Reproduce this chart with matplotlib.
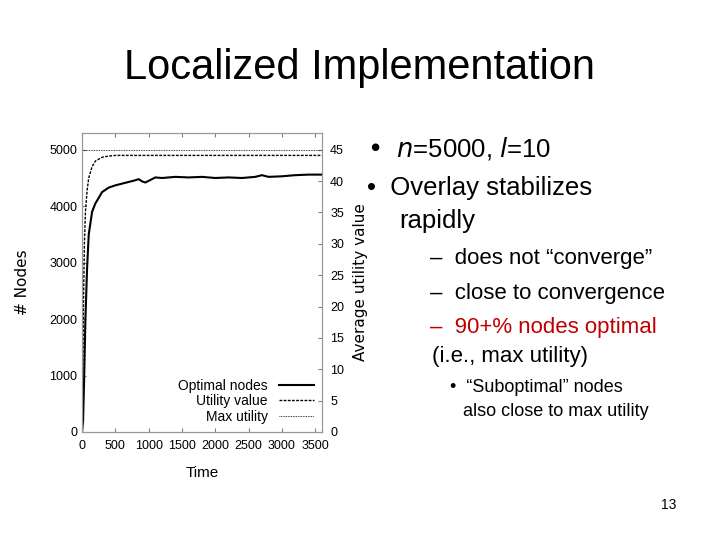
import matplotlib
matplotlib.use("Agg")
import matplotlib.pyplot as plt
import numpy as np

plt.rcParams['font.family'] = ['Liberation Sans', 'DejaVu Sans']

t_opt = [0, 15, 30, 50, 75, 100, 150, 200, 300, 400, 500, 600, 700, 800, 850, 900, 950, 1000, 1100, 1200, 1400, 1600, 1800, 2000, 2200, 2400, 2600, 2700, 2800, 3000, 3200, 3400, 3600]
opt = [0, 200, 900, 2000, 2900, 3500, 3900, 4050, 4250, 4330, 4370, 4400, 4430, 4460, 4480, 4440, 4420, 4450, 4510, 4500, 4520, 4510, 4520, 4500, 4510, 4500, 4520, 4550, 4520, 4530, 4550, 4560, 4560]
t_util = [0, 10, 20, 35, 50, 75, 100, 150, 200, 300, 400, 500, 3600]
util = [0, 8, 20, 30, 35, 38.5, 40.5, 42.3, 43.2, 43.8, 44.0, 44.1, 44.1]
max_util = 45

fig = plt.figure(figsize=(7.2, 5.4), dpi=100)
fig.text(0.5, 0.874, "Localized Implementation", ha="center", va="center", fontsize=30)

ax = fig.add_axes([0.114, 0.2, 0.333, 0.554])
ax2 = ax.twinx()
l1, = ax.plot(t_opt, opt, color="black", lw=1.5)
l2, = ax2.plot(t_util, util, color="black", lw=1, ls=(0, (2, 1)))
l3 = ax2.axhline(max_util, color="black", lw=0.6, ls=(0, (1, 1)))
ax.set_xlim(0, 3600)
ax.set_ylim(0, 5300)
ax2.set_ylim(0, 5300 * 45 / 5000)
ax.set_xticks(range(0, 3501, 500))
ax.set_yticks(range(0, 5001, 1000))
ax2.set_yticks(range(0, 46, 5))
for a in (ax, ax2):
    a.tick_params(labelsize=9, direction="in", length=3, color="gray")
    for s in a.spines.values():
        s.set_color("#999999")
ax.tick_params(top=True)
ax.tick_params(axis="x", pad=6)
ax2.tick_params(axis="y", pad=6)
ax.set_xlabel("Time", fontsize=11, labelpad=10)
ax.set_ylabel("# Nodes", fontsize=11, labelpad=14, family="DejaVu Sans")
ax2.set_ylabel("Average utility value", fontsize=11, labelpad=6, family="DejaVu Sans")
leg = ax.legend([l1, l2, l3], ["Optimal nodes", "Utility value", "Max utility"], loc="lower right",
                frameon=False, fontsize=10, markerfirst=False, handlelength=2.5, labelspacing=0.1, borderaxespad=0.2)

fs = 18.5
fig.text(0.51, 0.725, "•  $n$=5000, $l$=10", fontsize=fs, va="center")
fig.text(0.51, 0.652, "•  Overlay stabilizes", fontsize=fs, va="center")
fig.text(0.555, 0.59, "rapidly", fontsize=fs, va="center")
fs2 = 16
fig.text(0.597, 0.522, "–  does not “converge”", fontsize=fs2, va="center")
fig.text(0.597, 0.457, "–  close to convergence", fontsize=fs2, va="center")
fig.text(0.597, 0.393, "–  90+% nodes optimal", fontsize=fs2, va="center", color="#c00000")
fig.text(0.6, 0.340, "(i.e., max utility)", fontsize=fs2, va="center")
fig.text(0.625, 0.283, "•  “Suboptimal” nodes", fontsize=13, va="center")
fig.text(0.643, 0.238, "also close to max utility", fontsize=13, va="center")
fig.text(0.94, 0.065, "13", fontsize=10, ha="right", va="center")
fig.savefig("out.png", dpi=100)
